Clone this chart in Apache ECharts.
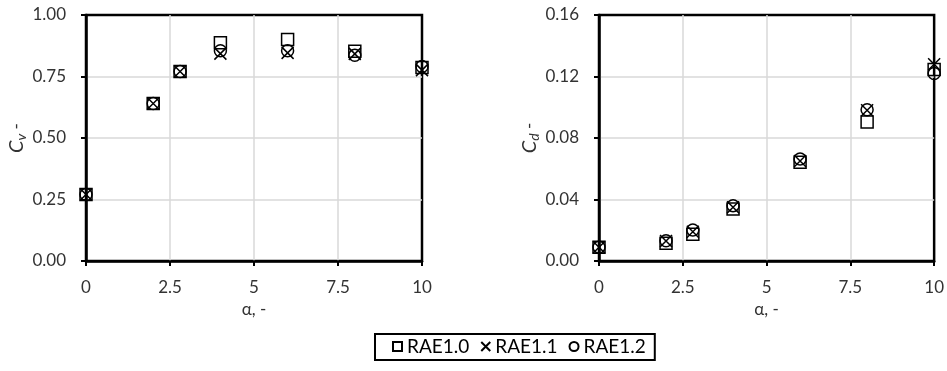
<!DOCTYPE html>
<html><head><meta charset="utf-8">
<script src="https://cdn.jsdelivr.net/npm/echarts@6/dist/echarts.min.js"></script>
<style>html,body{margin:0;padding:0;background:#fff}#c{width:947px;height:371px}</style>
</head><body><div id="c"></div>
<script>
const alpha = [0, 2, 2.8, 4, 6, 8, 10];
const seriesNames = ['RAE1.0', 'RAE1.1', 'RAE1.2'];
// Left chart: Cv
const cv_RAE10 = [0.27, 0.64, 0.77, 0.887, 0.900, 0.853, 0.787];
const cv_RAE11 = [0.27, 0.64, 0.77, 0.843, 0.846, 0.842, 0.776];
const cv_RAE12 = [0.27, 0.64, 0.77, 0.855, 0.855, 0.836, 0.791];
// Right chart: Cd
const cd_RAE10 = [0.009, 0.0115, 0.0174, 0.0339, 0.0643, 0.0904, 0.1245];
const cd_RAE11 = [0.009, 0.013, 0.019, 0.035, 0.065, 0.098, 0.128];
const cd_RAE12 = [0.009, 0.0132, 0.0202, 0.036, 0.0663, 0.0984, 0.122];
const xTicks = [0, 2.5, 5, 7.5, 10];
const cvTicks = [0, 0.25, 0.5, 0.75, 1.0];
const cdTicks = [0, 0.04, 0.08, 0.12, 0.16];

const FONT = 'Lato';
const TXT = '#333';
const symbols = [
  'rect',
  'path://M0,0L10,10M10,0L0,10',
  'circle'
];
const pair = (ys) => alpha.map((x, i) => [x, ys[i]]);

function xAxis(gi) {
  return {
    type: 'value', gridIndex: gi, min: xTicks[0], max: xTicks[xTicks.length - 1],
    interval: xTicks[1] - xTicks[0],
    name: 'α, -', nameLocation: 'middle', nameGap: 40,
    nameTextStyle: { fontFamily: FONT, fontSize: 17, color: TXT },
    axisLine: { show: true, onZero: false, lineStyle: { color: '#000', width: 2.5 } },
    axisTick: { show: true, length: 5, lineStyle: { color: '#000', width: 2 } },
    axisLabel: { fontFamily: FONT, fontSize: 17, color: TXT, margin: 18,
      formatter: v => String(v) },
    splitLine: { show: true, showMinLine: false, showMaxLine: false, lineStyle: { color: '#d9d9d9', width: 1.5 } }
  };
}
function yAxis(gi, ticks, sub) {
  return {
    type: 'value', gridIndex: gi, min: ticks[0], max: ticks[ticks.length - 1],
    interval: ticks[1] - ticks[0],
    name: '{c|C}{s|' + sub + '} -', nameLocation: 'middle', nameGap: 58,
    nameTextStyle: { fontFamily: FONT, fontSize: 17, color: TXT,
      rich: {
        c: { fontFamily: FONT, fontSize: 20, fontStyle: 'italic', color: TXT },
        s: { fontFamily: FONT, fontSize: 14, fontStyle: 'italic', color: TXT, verticalAlign: 'bottom', padding: [8, 0, 0, 0] }
      } },
    axisLine: { show: true, onZero: false, lineStyle: { color: '#000', width: 2.5 } },
    axisTick: { show: true, length: 5, lineStyle: { color: '#000', width: 2 } },
    axisLabel: { fontFamily: FONT, fontSize: 17, color: TXT, margin: 20,
      formatter: v => v.toFixed(2) },
    splitLine: { show: true, showMinLine: false, showMaxLine: false, lineStyle: { color: '#d9d9d9', width: 1.5 } }
  };
}
function mk(name, gi, ys, k) {
  return {
    name: name, type: 'scatter', xAxisIndex: gi, yAxisIndex: gi,
    data: pair(ys), symbol: symbols[k], symbolSize: 12,
    itemStyle: { color: 'rgba(0,0,0,0)', borderColor: '#000', borderWidth: 1.5, opacity: 1 },
    emphasis: { disabled: true }
  };
}
const chart = echarts.init(document.getElementById('c'), null, { renderer: 'canvas' });
chart.setOption({
  animation: false,
  backgroundColor: '#fff',
  grid: [
    { left: 86, right: 525, top: 15, bottom: 110, show: true, borderColor: '#000', borderWidth: 2.5, backgroundColor: 'transparent' },
    { left: 599, right: 12, top: 15, bottom: 110, show: true, borderColor: '#000', borderWidth: 2.5, backgroundColor: 'transparent' }
  ],
  xAxis: [xAxis(0), xAxis(1)],
  yAxis: [yAxis(0, cvTicks, 'v'), yAxis(1, cdTicks, 'd')],
  legend: {
    data: seriesNames, left: 375, top: 334, orient: 'horizontal',
    itemWidth: 9, itemHeight: 9, itemGap: 11,
    padding: [3, 9, 4, 17],
    borderColor: '#000', borderWidth: 2,
    textStyle: { fontFamily: FONT, fontSize: 19, color: '#000' },
    selectedMode: false
  },
  series: [
    mk(seriesNames[0], 0, cv_RAE10, 0),
    mk(seriesNames[1], 0, cv_RAE11, 1),
    mk(seriesNames[2], 0, cv_RAE12, 2),
    mk(seriesNames[0], 1, cd_RAE10, 0),
    mk(seriesNames[1], 1, cd_RAE11, 1),
    mk(seriesNames[2], 1, cd_RAE12, 2)
  ]
});
</script></body></html>
